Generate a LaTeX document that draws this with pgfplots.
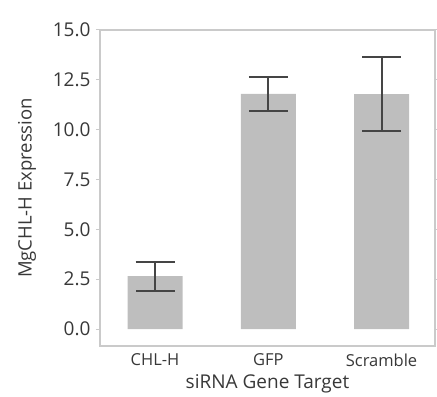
\documentclass[border=0pt]{standalone}
\usepackage{pgfplots}
\pgfplotsset{compat=1.18}
\usepackage{fontspec}
\setmainfont{Open Sans}
\definecolor{barc}{HTML}{BEBEBE}
\definecolor{errc}{HTML}{454545}
\definecolor{framec}{HTML}{CACACA}
\definecolor{textc}{HTML}{383838}
\begin{document}
\begin{tikzpicture}
\begin{axis}[
  scale only axis,
  width=335bp, height=316bp,
  xmin=-0.486, xmax=2.472,
  ymin=-0.85, ymax=15,
  xtick={0,1,2},
  xticklabels={CHL-H,GFP,Scramble},
  ytick={0,2.5,5,7.5,10,12.5,15},
  yticklabel style={/pgf/number format/.cd,fixed,fixed zerofill,precision=1,/tikz/.cd, xshift=-2bp},
  /pgf/number format/assume math mode=true,
  tick label style={font=\fontsize{19bp}{22bp}\selectfont, text=textc},
  xticklabel style={font=\fontsize{16.5bp}{19bp}\selectfont, text=textc},
  major x tick style={draw=none},
  major y tick style={draw=framec, line width=1bp},
  tick align=outside,
  major tick length=4bp,
  axis line style={draw=framec, line width=2bp},
  xlabel={siRNA Gene Target},
  ylabel={MgCHL-H Expression},
  every axis x label/.style={at={(axis description cs:0.5,-0.12)}, anchor=center, font=\fontsize{19bp}{22bp}\selectfont, text=textc},
  every axis y label/.style={at={(axis description cs:-0.218,0.5)}, rotate=90, anchor=center, font=\fontsize{18.5bp}{22bp}\selectfont, text=textc},
  ybar, bar width=0.486,
  clip=false,
]
\addplot[fill=barc, draw=none,
  error bars/.cd, y dir=both, y explicit,
  error bar style={draw=errc, line width=2bp},
  error mark options={draw=errc, rotate=90, mark size=19.5bp, line width=2bp}]
  coordinates {
  (0,2.65) +- (0,0.73)
  (1,11.8) +- (0,0.85)
  (2,11.78) +- (0,1.87)
};
\coordinate (sw) at (rel axis cs:0,0);
\coordinate (ne) at (rel axis cs:1,1);
\end{axis}
\pgfresetboundingbox
\path ([shift={(-100bp,-51bp)}]sw) rectangle ([shift={(2bp,30bp)}]ne);
\end{tikzpicture}
\end{document}
